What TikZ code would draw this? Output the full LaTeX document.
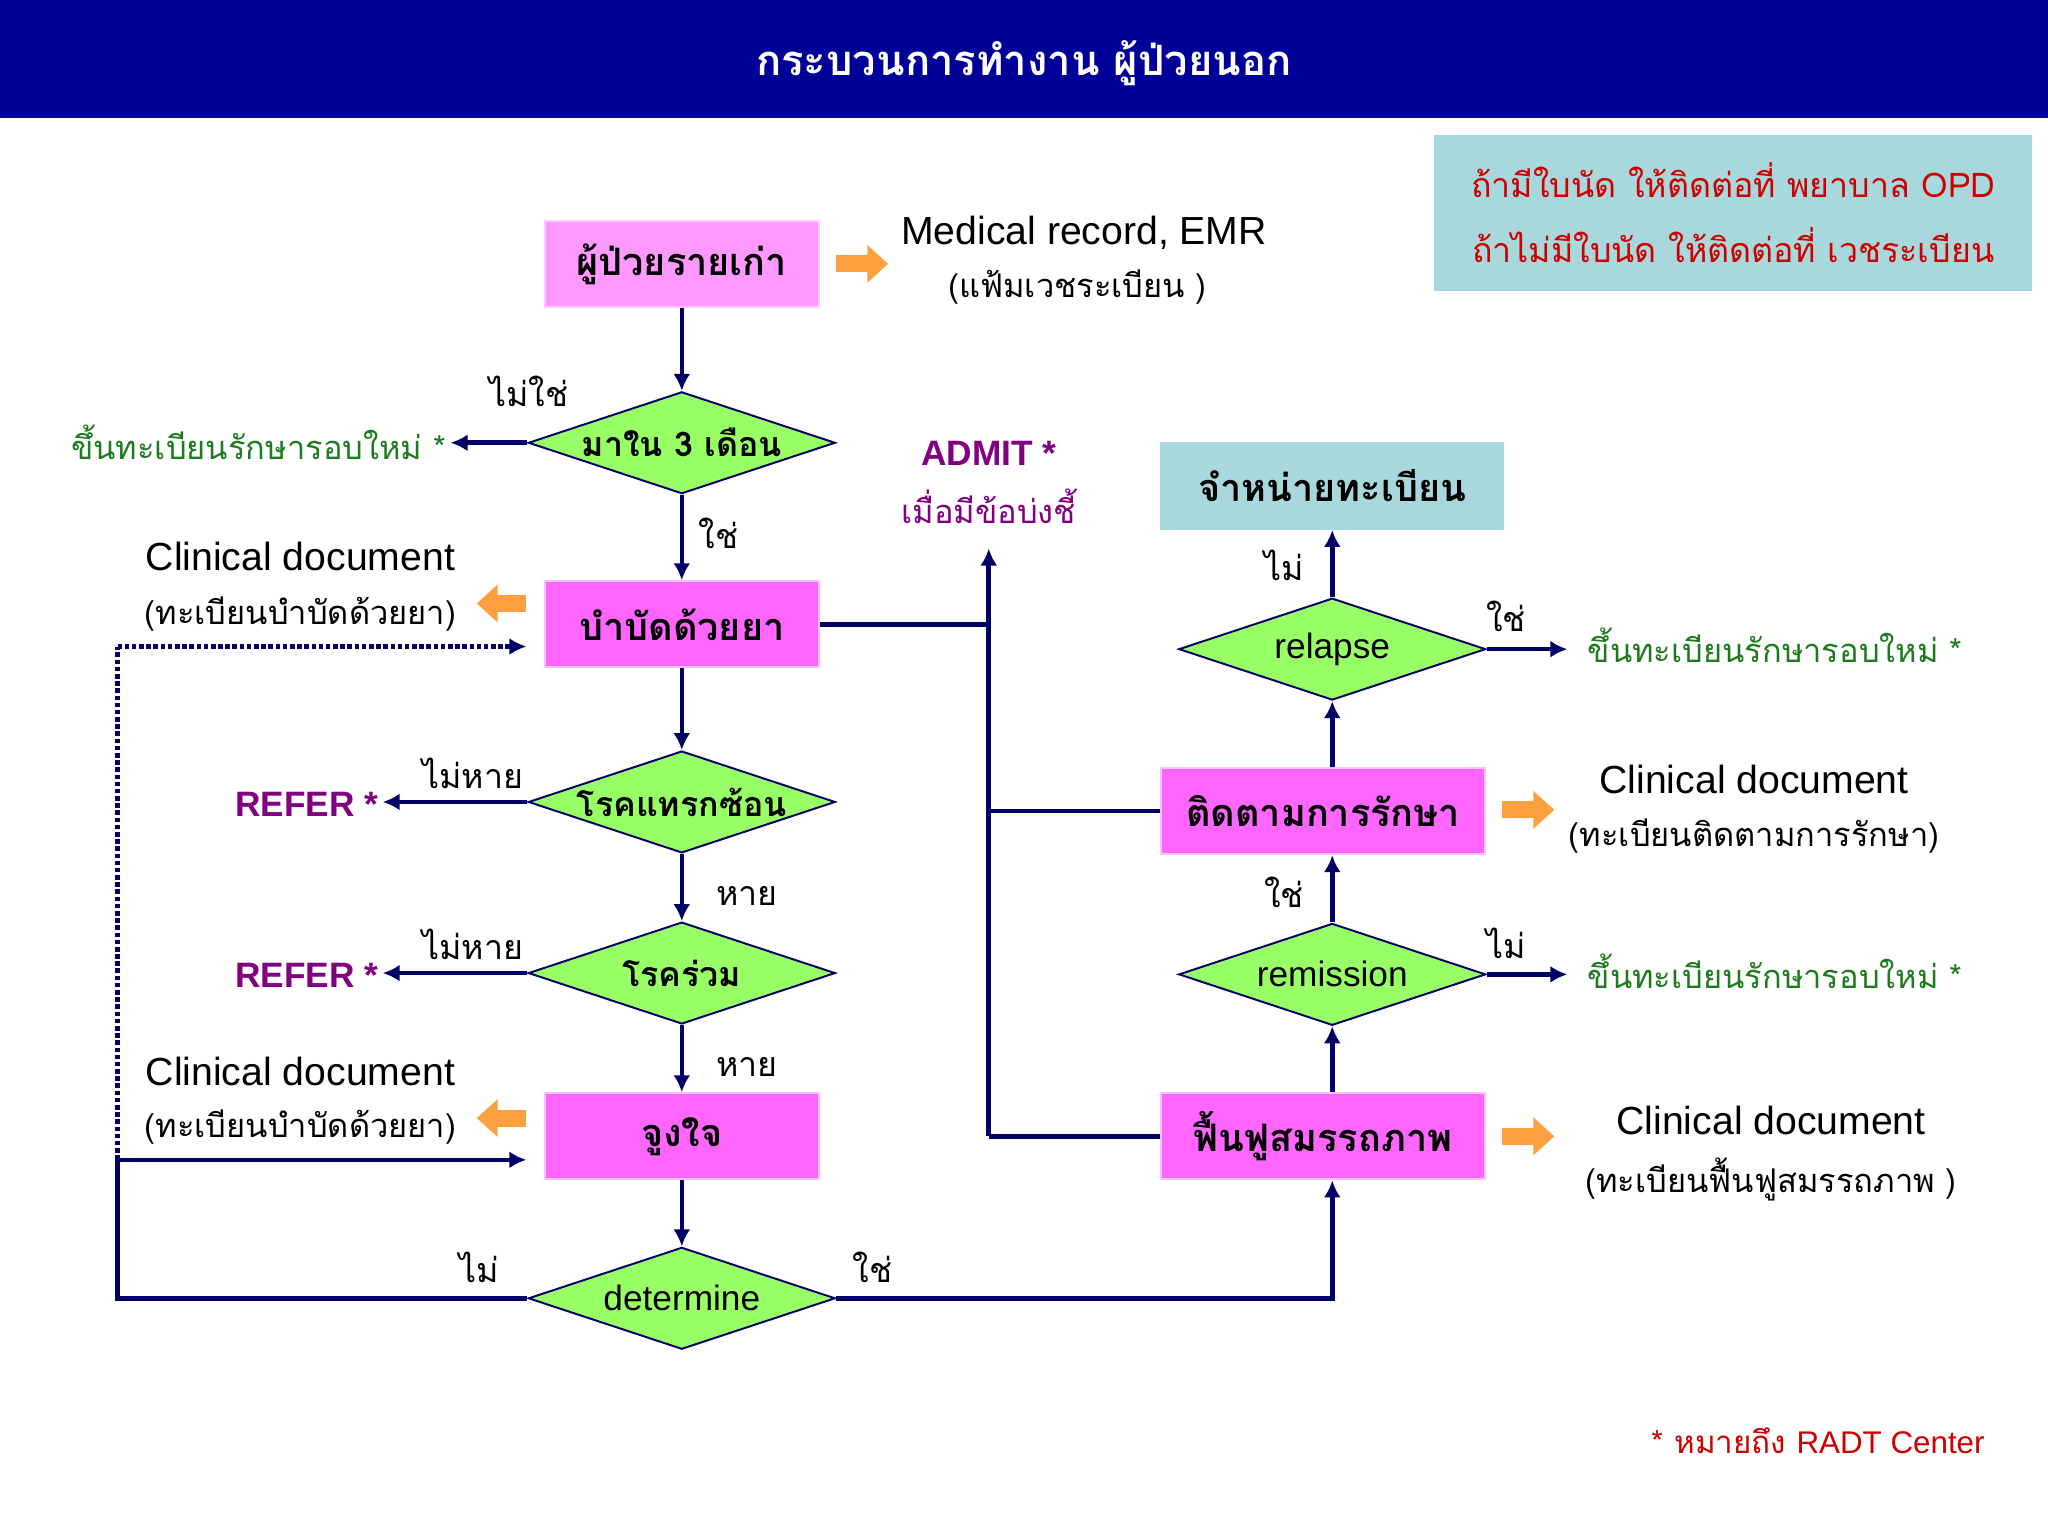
\documentclass[tikz,border=0pt]{standalone}
\usepackage{fontspec}
\setmainfont[Script=Thai]{Loma}
\newfontfamily\latin{Liberation Sans}
\usetikzlibrary{positioning,shapes.geometric}
\usetikzlibrary{arrows.meta,arrows}
\definecolor{navy}{HTML}{000099}
\definecolor{line}{HTML}{000066}
\definecolor{lpink}{HTML}{FF99FF}
\definecolor{mpink}{HTML}{FF66FF}
\definecolor{lgreen}{HTML}{99FF66}
\definecolor{paleteal}{HTML}{A8D8DC}
\definecolor{orng}{HTML}{FFA040}
\definecolor{dgreen}{HTML}{1E7A1E}
\definecolor{purp}{HTML}{800080}
\definecolor{dred}{HTML}{CC0000}
\tikzset{
  box/.style={draw=lpink!60!white,line width=1.5pt,fill=mpink,minimum width=210pt,minimum height=66pt,font=\fontsize{29}{32}\selectfont\bfseries},
  dia/.style={draw=line,line width=1.5pt,fill=lgreen,diamond,aspect=3,minimum width=235pt,minimum height=78pt,inner sep=0pt,font=\fontsize{26}{30}\selectfont\bfseries},
  flow/.style={line,line width=3.5pt,-{Latex[length=13pt,width=13pt]}},
  plain/.style={line,line width=3.5pt},
  hint/.style={orng,line width=13pt,-{Triangle[length=16pt,width=28pt]}},
  lab/.style={font=\fontsize{26}{30}\selectfont},
  cdoc/.style={font=\fontsize{30}{32}\selectfont\latin,align=center},
  sub/.style={font=\fontsize{25}{30}\selectfont},
  green/.style={text=dgreen,font=\fontsize{25}{30}\selectfont},
}
\begin{document}
\begin{tikzpicture}[x=1pt,y=-1pt]
\useasboundingbox (0,0) rectangle (1568,1177);
\fill[navy] (0,0) rectangle (1568,90);
\node[text=white,font=\fontsize{32}{34}\selectfont\bfseries] (title) at (784,48) {กระบวนการทำงาน ผู้ป่วยนอก};
\node[fill=paleteal,minimum width=458pt,minimum height=120pt,align=center,text=dred,font=\fontsize{26}{50}\selectfont] (info) at (1327,163) {ถ้ามีใบนัด ให้ติดต่อที่ พยาบาล OPD\\ถ้าไม่มีใบนัด ให้ติดต่อที่ เวชระเบียน};

% left column
\node[box,fill=lpink,draw=lpink!50!white] (old) at (522,202) {ผู้ป่วยรายเก่า};
\node[dia] (three) at (522,339) {มาใน 3 เดือน};
\node[box] (treat) at (522,478) {บำบัดด้วยยา};
\node[dia] (comp) at (522,614) {โรคแทรกซ้อน};
\node[dia] (comor) at (522,745) {โรคร่วม};
\node[box] (motiv) at (522,870) {จูงใจ};
\node[dia,font=\fontsize{27}{30}\selectfont\latin] (det) at (522,994) {determine};

% right column
\node[box,fill=paleteal,draw=paleteal,minimum width=262pt] (disc) at (1020,372) {จำหน่ายทะเบียน};
\node[dia,font=\fontsize{27}{30}\selectfont\latin] (relapse) at (1020,497) {relapse};
\node[box,minimum width=248pt] (follow) at (1013,621) {ติดตามการรักษา};
\node[dia,font=\fontsize{27}{30}\selectfont\latin] (remis) at (1020,746) {remission};
\node[box,minimum width=248pt] (rehab) at (1013,870) {ฟื้นฟูสมรรถภาพ};

% texts
\node[cdoc] (emr) at (830,178) {Medical record, EMR};
\node[sub] (emr2) at (825,220) {(แฟ้มเวชระเบียน )};
\node[green,anchor=east] (new1) at (345,339) {ขึ้นทะเบียนรักษารอบใหม่ *};
\node[cdoc] (doc1) at (230,426) {Clinical document};
\node[sub] (doc1b) at (230,470) {(ทะเบียนบำบัดด้วยยา)};
\node[text=purp,font=\fontsize{27}{30}\selectfont\latin\bfseries,anchor=east] (ref1) at (293,616) {REFER *};
\node[text=purp,font=\fontsize{27}{30}\selectfont\latin\bfseries,anchor=east] (ref2) at (293,747) {REFER *};
\node[cdoc] (doc2) at (230,820) {Clinical document};
\node[sub] (doc2b) at (230,863) {(ทะเบียนบำบัดด้วยยา)};
\node[text=purp,font=\fontsize{27}{30}\selectfont\latin\bfseries] (admit) at (757,347) {ADMIT *};
\node[text=purp,font=\fontsize{25}{30}\selectfont] (admit2) at (757,388) {เมื่อมีข้อบ่งชี้};
\node[green,anchor=west] (new2) at (1212,494) {ขึ้นทะเบียนรักษารอบใหม่ *};
\node[green,anchor=west] (new3) at (1212,744) {ขึ้นทะเบียนรักษารอบใหม่ *};
\node[cdoc] (doc3) at (1343,597) {Clinical document};
\node[sub] (doc3b) at (1343,640) {(ทะเบียนติดตามการรักษา)};
\node[cdoc] (doc4) at (1356,858) {Clinical document};
\node[sub] (doc4b) at (1356,903) {(ทะเบียนฟื้นฟูสมรรถภาพ )};
\node[text=dred,font=\fontsize{24}{26}\selectfont] (note) at (1392,1103) {* หมายถึง {\latin RADT Center}};

% branch labels
\node[lab] at (405,300) {ไม่ใช่};
\node[lab] at (550,408) {ใช่};
\node[lab] at (362,592) {ไม่หาย};
\node[lab] at (572,686) {หาย};
\node[lab] at (362,723) {ไม่หาย};
\node[lab] at (572,817) {หาย};
\node[lab] at (367,970) {ไม่};
\node[lab] at (668,970) {ใช่};
\node[lab] at (983,433) {ไม่};
\node[lab] at (1153,472) {ใช่};
\node[lab] at (983,683) {ใช่};
\node[lab] at (1153,722) {ไม่};

% free ends
\coordinate (a1) at (757,420);
\coordinate (a2) at (757,870);
\coordinate (b1) at (90,994);
\coordinate (b2) at (403,888);
\coordinate (c1) at (90,495);
\coordinate (c2) at (403,495);
\coordinate (c3) at (90,888);
\coordinate (e1) at (1200,497);
\coordinate (e2) at (1200,746);

% hint arrows
\draw[hint] (640,202) -- (680,202);
\draw[hint] (403,462) -- (365,462);
\draw[hint] (403,856) -- (365,856);
\draw[hint] (1150,620) -- (1190,620);
\draw[hint] (1150,870) -- (1190,870);

\draw[flow] (old) -- (three);
\draw[flow] (three) -- (three -| new1.east);
\draw[flow] (three) -- (treat);
\draw[flow] (treat) -- (comp);
\draw[flow] (comp) -- (comp -| ref1.east);
\draw[flow] (comp) -- (comor);
\draw[flow] (comor) -- (comor -| ref2.east);
\draw[flow] (comor) -- (motiv);
\draw[flow] (motiv) -- (det);
\draw[flow] (det) -| (rehab.south -| remis);
\draw[flow] (rehab.north -| remis) -- (remis);
\draw[flow] (remis) -- (remis.north |- follow.south);
\draw[flow] (remis) -- (e2);
\draw[flow] (follow.north -| relapse) -- (relapse);
\draw[flow] (relapse) -- (disc);
\draw[flow] (relapse) -- (e1);
\draw[plain] (treat.east) -- (treat.east -| a1);
\draw[flow] (a2) -- (a1);
\draw[plain] (follow.west) -- (follow.west -| a1);
\draw[plain] (rehab.west) -- (a2);
\draw[flow] (det) -- (b1) -- (c3) -- (b2);
\draw[line,line width=3.5pt,dotted] (c3) -- (c1);
\draw[line,line width=3.5pt,dotted,-{Latex[length=13pt,width=13pt]}] (c1) -- (c2);
\end{tikzpicture}
\end{document}
